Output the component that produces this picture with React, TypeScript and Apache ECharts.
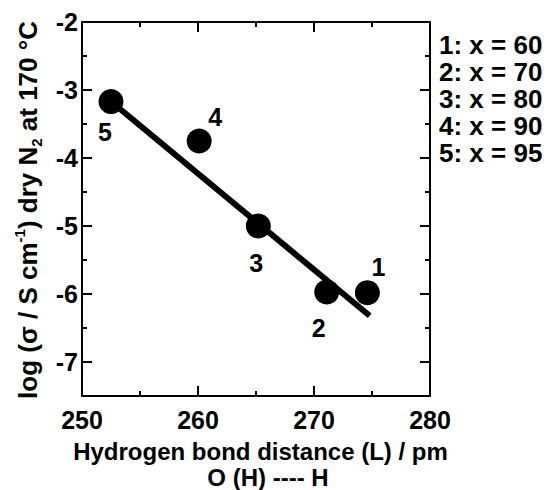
import React, { useEffect, useRef } from "react";
import * as echarts from "echarts";

// ---- data ----
const sampleIds = ["1", "2", "3", "4", "5"];
const bondDistance = [274.6, 271.1, 265.2, 260.1, 252.5]; // pm
const logSigma = [-5.98, -5.97, -5.0, -3.75, -3.17];
const fitX = [252.5, 274.8];
const fitY = [-3.17, -6.32];
const compositions = ["1: x = 60", "2: x = 70", "3: x = 80", "4: x = 90", "5: x = 95"];
const xTicks = { min: 250, max: 280, interval: 10 };
const yRange = { min: -7.5, max: -2, majorStep: 1 };
const xMajorTicks = [250, 260, 270, 280];
const xMinorTicks = [255, 265, 275];
const yMajorTicks = [-7, -6, -5, -4, -3, -2];
const yMinorTicks = [-6.5, -5.5, -4.5, -3.5, -2.5];
const yTitle = "{m|log (σ / S cm}{sup|-1}{m|) dry N}{sub|2}{m| at 170 °C}";
const xTitle = "{a|Hydrogen bond distance (L) / pm}\n{b|O (H) ---- H}";

// label offsets (layout only)
const labelOffsets = [
  [11, -26],
  [-8, 36],
  [-2, 37],
  [16, -24],
  [-6, 30],
];

const GRID = { left: 82, top: 22, width: 348, height: 374 };
const FONT = '"Liberation Sans", Arial, Helvetica, sans-serif';
const BLACK = "#000";
const MAJOR_LEN = 10;
const MINOR_LEN = 5;
const xPerPx = (xTicks.max - xTicks.min) / GRID.width;
const yPerPx = (yRange.max - yRange.min) / GRID.height;

// tick marks as short line segments in data space (through the axes' scales)
const tickSegment = (p1: number[], p2: number[]) => ({
  type: "line",
  data: [p1, p2],
  symbol: "none",
  showSymbol: false,
  silent: true,
  clip: false,
  z: 4,
  lineStyle: { color: BLACK, width: 2, cap: "butt", opacity: 1 },
});

const tickSeries: any[] = [];
const addX = (vals: number[], len: number) =>
  vals.forEach((v) => {
    tickSeries.push(tickSegment([v, yRange.min], [v, yRange.min + len * yPerPx]));
    tickSeries.push(tickSegment([v, yRange.max], [v, yRange.max - len * yPerPx]));
  });
const addY = (vals: number[], len: number) =>
  vals.forEach((v) => {
    tickSeries.push(tickSegment([xTicks.min, v], [xTicks.min + len * xPerPx, v]));
    tickSeries.push(tickSegment([xTicks.max, v], [xTicks.max - len * xPerPx, v]));
  });
addX(xMajorTicks, MAJOR_LEN);
addX(xMinorTicks, MINOR_LEN);
addY(yMajorTicks, MAJOR_LEN);
addY(yMinorTicks, MINOR_LEN);

// same ticks again as filled rects in a custom series (backup rendering path)
const rectTickSeries = (values: number[], len: number, dir: "x" | "y") => ({
  type: "custom",
  silent: true,
  clip: false,
  z: 5,
  data: values.map((v) => (dir === "x" ? [v, yRange.min] : [xTicks.min, v])),
  renderItem: (_p: any, api: any) => {
    if (dir === "x") {
      const v = api.value(0);
      const b = api.coord([v, yRange.min]);
      const t = api.coord([v, yRange.max]);
      return {
        type: "group",
        children: [
          { type: "rect", shape: { x: b[0] - 1, y: b[1] - len, width: 2, height: len }, style: { fill: BLACK } },
          { type: "rect", shape: { x: t[0] - 1, y: t[1], width: 2, height: len }, style: { fill: BLACK } },
        ],
      };
    }
    const v = api.value(1);
    const l = api.coord([xTicks.min, v]);
    const r = api.coord([xTicks.max, v]);
    return {
      type: "group",
      children: [
        { type: "rect", shape: { x: l[0], y: l[1] - 1, width: len, height: 2 }, style: { fill: BLACK } },
        { type: "rect", shape: { x: r[0] - len, y: r[1] - 1, width: len, height: 2 }, style: { fill: BLACK } },
      ],
    };
  },
});

export default function App() {
  const ref = useRef<HTMLDivElement>(null);
  useEffect(() => {
    if (!ref.current) return;
    const chart = echarts.init(ref.current, null, { renderer: "svg" });
    const labelStyle = {
      color: BLACK,
      fontSize: 25,
      fontWeight: "bold" as const,
      fontFamily: FONT,
    };
    const richBase = { fontWeight: "bold", fontFamily: FONT, color: BLACK };

    const option: any = {
      animation: false,
      grid: {
        ...GRID,
        containLabel: false,
        outerBoundsMode: "none",
        show: true,
        borderColor: BLACK,
        borderWidth: 2,
        backgroundColor: "transparent",
      },
      xAxis: {
        type: "value",
        position: "bottom",
        min: xTicks.min,
        max: xTicks.max,
        interval: xTicks.interval,
        splitLine: { show: false },
        axisLine: { show: true, lineStyle: { color: BLACK, width: 2 } },
        axisTick: { show: false },
        axisLabel: { show: true, margin: 11, ...labelStyle },
        name: xTitle,
        nameLocation: "middle",
        nameGap: 41,
        nameTextStyle: {
          ...richBase,
          rich: {
            a: { ...richBase, fontSize: 24, lineHeight: 28, padding: [0, 0, 0, 9] },
            b: { ...richBase, fontSize: 24, lineHeight: 24, padding: [0, 0, 0, 24] },
          },
        },
      },
      yAxis: {
        type: "value",
        position: "left",
        min: yRange.min,
        max: yRange.max,
        minInterval: yRange.majorStep,
        maxInterval: yRange.majorStep,
        splitLine: { show: false },
        axisLine: { show: true, lineStyle: { color: BLACK, width: 2 } },
        axisTick: { show: false },
        axisLabel: {
          show: true,
          margin: 4,
          ...labelStyle,
          formatter: (v: number) => (Number.isInteger(v) ? String(v) : ""),
        },
      },
      graphic: [
        {
          type: "text",
          x: 28,
          y: 210,
          rotation: Math.PI / 2,
          style: {
            text: yTitle,
            align: "center",
            verticalAlign: "middle",
            fill: BLACK,
            font: `bold 26px ${FONT}`,
            rich: {
              m: { ...richBase, fill: BLACK, fontSize: 26, lineHeight: 32 },
              sup: { ...richBase, fill: BLACK, fontSize: 15, lineHeight: 32, verticalAlign: "top", padding: [0, 0, 14, 0] },
              sub: { ...richBase, fill: BLACK, fontSize: 15, lineHeight: 32, verticalAlign: "bottom", padding: [10, 0, 0, 0] },
            },
          },
        },
        ...compositions.map((t, i) => ({
          type: "text",
          x: 439,
          y: 45 + i * 27,
          style: {
            text: t,
            fill: BLACK,
            font: `bold 26px ${FONT}`,
            lineHeight: 27,
            verticalAlign: "middle",
            align: "left",
          },
        })),
      ],
      series: [
        {
          type: "line",
          data: fitX.map((x, i) => [x, fitY[i]]),
          showSymbol: false,
          symbol: "none",
          lineStyle: { color: BLACK, width: 6, cap: "butt", opacity: 1 },
          z: 2,
          silent: true,
        },
        {
          type: "scatter",
          symbol: "circle",
          symbolSize: 25,
          itemStyle: { color: BLACK, opacity: 1 },
          z: 3,
          data: bondDistance.map((x, i) => ({
            value: [x, logSigma[i]],
            label: {
              show: true,
              formatter: sampleIds[i],
              position: "inside",
              offset: labelOffsets[i],
              color: BLACK,
              opacity: 1,
              fontSize: 25,
              fontWeight: "bold",
              fontFamily: FONT,
            },
          })),
        },
        ...tickSeries,
        rectTickSeries(xMajorTicks, MAJOR_LEN, "x"),
        rectTickSeries(xMinorTicks, MINOR_LEN, "x"),
        rectTickSeries(yMajorTicks, MAJOR_LEN, "y"),
        rectTickSeries(yMinorTicks, MINOR_LEN, "y"),
      ],
    };
    chart.setOption(option);
    return () => chart.dispose();
  }, []);
  return (
    <div
      ref={ref}
      style={{ position: "absolute", left: 0, top: 0, width: 552, height: 490, background: "#fff" }}
    />
  );
}
